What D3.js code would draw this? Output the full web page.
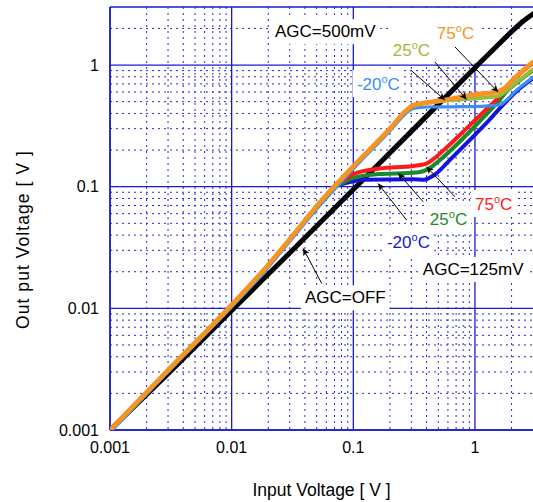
<!DOCTYPE html>
<html><head><meta charset="utf-8">
<script src="https://cdn.jsdelivr.net/npm/d3@7"></script>
<style>body{margin:0;background:#fff}svg{display:block}</style>
</head><body>
<svg id="c" width="533" height="502"></svg>
<script>
// ---- data ----
const tickValues = [0.001, 0.01, 0.1, 1];
const tickLabels = ["0.001", "0.01", "0.1", "1"];

// AGC = OFF
const offX = [0.001, 0.003, 0.01, 0.03, 0.1, 0.3, 1, 1.5, 2, 2.5, 3];
const offY = [0.001, 0.0029, 0.0096, 0.0285, 0.095, 0.285, 0.95, 1.42, 1.88, 2.3, 2.63];

// AGC = 500mV
const a500x75 = [0.001, 0.003, 0.0094, 0.0194, 0.03, 0.053, 0.1, 0.2, 0.27, 0.31, 0.45, 0.56, 0.85, 1.2, 1.5, 1.8, 2.1, 2.5, 3];
const a500y75 = [0.001, 0.0031, 0.010, 0.022, 0.037, 0.074, 0.147, 0.3, 0.42, 0.465, 0.5, 0.515, 0.56, 0.585, 0.6, 0.66, 0.78, 0.91, 1.06];
const a500x25 = [0.001, 0.003, 0.0094, 0.0194, 0.03, 0.053, 0.1, 0.2, 0.27, 0.31, 0.45, 0.85, 1.2, 1.55, 1.75, 2.1, 2.5, 3];
const a500y25 = [0.001, 0.0031, 0.010, 0.022, 0.037, 0.074, 0.147, 0.3, 0.42, 0.46, 0.495, 0.525, 0.54, 0.555, 0.6, 0.7, 0.8, 0.92];
const a500xm20 = [0.001, 0.003, 0.0094, 0.0194, 0.03, 0.053, 0.1, 0.2, 0.27, 0.31, 0.4, 0.8, 1.2, 1.6, 1.8, 2.2, 2.6, 3];
const a500ym20 = [0.00096, 0.003, 0.0096, 0.021, 0.0355, 0.07, 0.14, 0.288, 0.40, 0.44, 0.452, 0.455, 0.46, 0.47, 0.51, 0.62, 0.71, 0.79];

// AGC = 125mV
const a125x75 = [0.07, 0.078, 0.1, 0.165, 0.31, 0.4, 0.46, 0.6, 0.85, 1.2, 1.5, 1.8, 2.1, 2.5, 3];
const a125y75 = [0.1, 0.108, 0.127, 0.141, 0.148, 0.155, 0.17, 0.215, 0.3, 0.42, 0.52, 0.65, 0.77, 0.9, 1.04];
const a125x25 = [0.07, 0.078, 0.1, 0.165, 0.31, 0.375, 0.45, 0.55, 0.8, 1.2, 1.6, 1.8, 2.1, 2.5, 3];
const a125y25 = [0.1, 0.105, 0.118, 0.127, 0.13, 0.134, 0.148, 0.175, 0.25, 0.38, 0.52, 0.6, 0.69, 0.79, 0.9];
const a125xm20 = [0.07, 0.078, 0.1, 0.12, 0.31, 0.38, 0.42, 0.48, 0.6, 0.9, 1.3, 1.7, 2.2, 2.6, 3];
const a125ym20 = [0.1, 0.104, 0.111, 0.114, 0.115, 0.114, 0.118, 0.128, 0.16, 0.24, 0.35, 0.47, 0.61, 0.7, 0.78];

// annotations: text, colour, x, y (data units, start/baseline), white box group
const labelText = ["AGC=500mV", "75|C", "25|C", "-20|C", "75|C", "25|C", "-20|C", "AGC=125mV", "AGC=OFF"];
const labelColor = ["#000", "#f7931e", "#9bbb3a", "#3b8ef2", "#ff1a1a", "#1a8a2a", "#1414dc", "#000", "#000"];
const labelX = [0.0227, 0.486, 0.211, 0.107, 1.0, 0.426, 0.189, 0.373, 0.040];
const labelY = [1.695, 1.63, 1.18, 0.622, 0.0643, 0.0483, 0.0313, 0.0188, 0.0110];
const labelBox = [0, 1, 1, 2, 3, 4, 5, 6, 7];
// arrows: from (x0,y0) to (x1,y1) in data units
const arrowX0 = [0.684, 0.468, 0.297, 0.684, 0.375, 0.274, 0.055];
const arrowY0 = [1.41, 1.06, 0.908, 0.0826, 0.0752, 0.0532, 0.016];
const arrowX1 = [1.55, 0.853, 0.566, 0.40, 0.234, 0.160, 0.0387];
const arrowY1 = [0.60, 0.522, 0.516, 0.146, 0.129, 0.106, 0.0311];

// ---- drawing ----
const svg = d3.select("#c");
const font = "'Liberation Sans', Arial, sans-serif";
const L = 110, R = 533, T = 7, B = 430;
const x = d3.scaleLog().domain([0.001, 3]).range([L, R]);
const y = d3.scaleLog().domain([0.001, 3]).range([B, T]);

const defs = svg.append("defs");
defs.append("clipPath").attr("id", "clip")
  .append("rect").attr("x", L).attr("y", T).attr("width", R - L).attr("height", B - T);

// grid
const minor = [], major = [];
for (let e = -3; e <= 0; e++) {
  for (let m = 1; m <= 9; m++) {
    const v = m * Math.pow(10, e);
    if (v >= 3) continue;
    if (m === 1) major.push(v); else minor.push(v);
  }
}
const grid = svg.append("g");
const gridColor = "#2a2ad6";
const majorColor = "#1a1acc";
grid.selectAll(".vx").data(minor).join("line")
  .attr("x1", d => x(d)).attr("x2", d => x(d)).attr("y1", T).attr("y2", B)
  .attr("stroke", gridColor).attr("stroke-width", 1).attr("stroke-dasharray", "2,4");
grid.selectAll(".hy").data(minor).join("line")
  .attr("y1", d => y(d)).attr("y2", d => y(d)).attr("x1", L).attr("x2", R)
  .attr("stroke", gridColor).attr("stroke-width", 1).attr("stroke-dasharray", "2,4");
grid.selectAll(".vX").data(major).join("line")
  .attr("x1", d => x(d)).attr("x2", d => x(d)).attr("y1", T).attr("y2", B)
  .attr("stroke", majorColor).attr("stroke-width", 1.3);
grid.selectAll(".hY").data(major).join("line")
  .attr("y1", d => y(d)).attr("y2", d => y(d)).attr("x1", L).attr("x2", R)
  .attr("stroke", majorColor).attr("stroke-width", 1.3);
grid.append("line").attr("x1", L).attr("x2", R).attr("y1", T).attr("y2", T).attr("stroke", majorColor).attr("stroke-width", 1.5);
grid.append("line").attr("x1", L).attr("x2", R).attr("y1", B).attr("y2", B).attr("stroke", majorColor).attr("stroke-width", 1.5);
grid.append("line").attr("x1", L).attr("x2", L).attr("y1", T).attr("y2", B).attr("stroke", majorColor).attr("stroke-width", 1.5);

const boxLayer = svg.append("g");
const curveLayer = svg.append("g").attr("clip-path", "url(#clip)");
const arrowLayer = svg.append("g");
const textLayer = svg.append("g");

const line = d3.line().x(d => x(d[0])).y(d => y(d[1])).curve(d3.curveMonotoneX);
function series(xs, ys, color, w) {
  curveLayer.append("path").datum(d3.zip(xs, ys))
    .attr("d", line).attr("fill", "none").attr("stroke", color)
    .attr("stroke-width", w).attr("stroke-linejoin", "round").attr("stroke-linecap", "round");
}
series(offX, offY, "#000", 5);
series(a125xm20, a125ym20, "#1414dc", 4);
series(a125x25, a125y25, "#1a8a2a", 4);
series(a125x75, a125y75, "#ff1a1a", 4);
series(a500xm20, a500ym20, "#3b8ef2", 3.2);
series(a500x25, a500y25, "#9bbb3a", 4);
series(a500x75, a500y75, "#f7931e", 4.6);

// arrows
defs.append("marker").attr("id", "ah")
  .attr("viewBox", "0 0 10 10").attr("refX", 10).attr("refY", 5)
  .attr("markerWidth", 11).attr("markerHeight", 7).attr("markerUnits", "userSpaceOnUse")
  .attr("orient", "auto")
  .append("path").attr("d", "M0,0 L10,5 L0,10 L2.5,5 Z").attr("fill", "#000");
arrowLayer.selectAll("line").data(d3.range(arrowX0.length)).join("line")
  .attr("x1", i => x(arrowX0[i])).attr("y1", i => y(arrowY0[i]))
  .attr("x2", i => x(arrowX1[i])).attr("y2", i => y(arrowY1[i]))
  .attr("stroke", "#000").attr("stroke-width", 1).attr("marker-end", "url(#ah)");

// labels
const boxes = {};
labelText.forEach((t, i) => {
  const tx = textLayer.append("text").attr("x", x(labelX[i])).attr("y", y(labelY[i]))
    .attr("font-family", font).attr("font-size", 17).attr("fill", labelColor[i]);
  if (t.includes("|")) {
    const [a, b] = t.split("|");
    tx.append("tspan").text(a);
    tx.append("tspan").attr("font-size", 11).attr("dy", -7).text("o");
    tx.append("tspan").attr("dy", 7).text(b);
  } else tx.text(t);
  const bb = tx.node().getBBox();
  const g = labelBox[i];
  const r = [bb.x - 4, bb.y - 3, bb.x + bb.width + 4, bb.y + bb.height + 3];
  if (boxes[g]) {
    const o = boxes[g];
    boxes[g] = [Math.min(o[0], r[0]), Math.min(o[1], r[1]), Math.max(o[2], r[2]), Math.max(o[3], r[3])];
  } else boxes[g] = r;
});
Object.keys(boxes).forEach(k => {
  const b = boxes[k];
  const top = k === "1" ? T + 1 : b[1];
  boxLayer.append("rect").attr("x", b[0]).attr("y", top)
    .attr("width", b[2] - b[0]).attr("height", b[3] - top).attr("fill", "#fff");
});

// tick labels
const axes = svg.append("g").attr("font-family", font).attr("font-size", 16).attr("fill", "#000");
axes.selectAll(".yl").data(tickValues).join("text")
  .attr("x", 99).attr("y", d => y(d)).attr("dy", "0.36em").attr("text-anchor", "end")
  .text((d, i) => tickLabels[i]);
axes.selectAll(".xl").data(tickValues).join("text")
  .attr("x", d => x(d)).attr("y", 453).attr("text-anchor", "middle")
  .text((d, i) => tickLabels[i]);

// axis titles
svg.append("text").attr("x", (L + R) / 2).attr("y", 496).attr("text-anchor", "middle")
  .attr("font-family", font).attr("font-size", 17.5).text("Input Voltage [ V ]");
svg.append("text").attr("transform", "translate(29,240) rotate(-90)").attr("text-anchor", "middle")
  .attr("font-family", font).attr("font-size", 17.5)
  .attr("textLength", 178).attr("lengthAdjust", "spacing").text("Out put Voltage [ V ]");
</script>
</body></html>
